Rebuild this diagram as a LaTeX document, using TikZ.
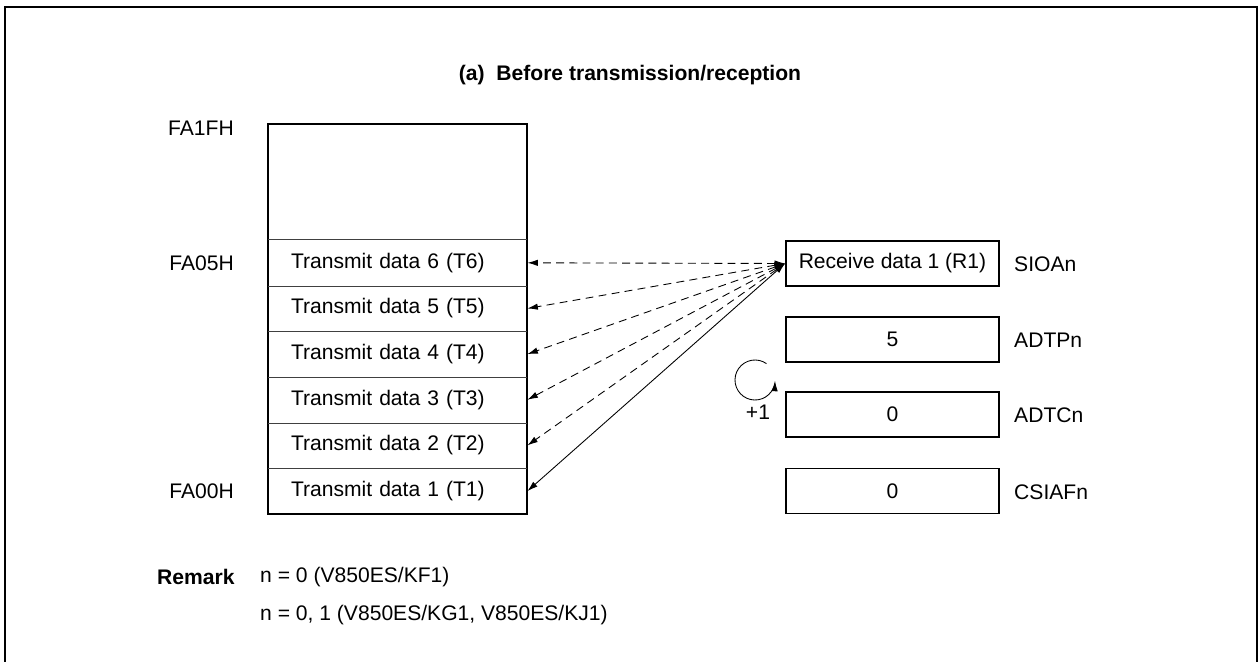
\documentclass[tikz,border=0pt]{standalone}
\usepackage{fontspec}
\setmainfont{Liberation Sans}
\usetikzlibrary{arrows.meta}

\begin{document}
\begin{tikzpicture}[x=0.02cm,y=-0.02cm,
  font=\fontsize{12}{14}\selectfont,
  rowbox/.style={minimum height=0.9134cm, inner ysep=0pt, inner xsep=0.46cm,
    text width=4.26cm, align=left},
  regbox/.style={draw, line width=1.1pt, minimum width=4.26cm, minimum height=0.9cm,
    inner sep=0pt},
  xfer/.style={<->, >={Latex[length=6pt,width=3.6pt]}, line width=0.5pt},
  pxx/.style={line width=1.1pt}]
\useasboundingbox (0,0) rectangle (1258,662);
\draw[line width=1.2pt] (5,680) -- (5,7) -- (1257,7) -- (1257,680);
\node[font=\fontsize{12}{14}\selectfont\bfseries] (title) at (630,75) {(a)\ \ Before transmission/reception};
% buffer RAM
\draw[pxx] (268,124) rectangle (527,514);
\foreach \i in {1,...,6}
  \node[rowbox] (t\i) at (397.5,{514-(\i-0.5)*45.67}) {Transmit data \i\ (T\i)};
\foreach \i in {2,...,6}
  \draw[line width=0.5pt, black!75] (t\i.south west) -- (t\i.south east);
\draw[line width=0.5pt, black!75] (t6.north west) -- (t6.north east);
\node[anchor=east] (a1f) at (240,128) {FA1FH};
\node[anchor=east] (a05) at (240,263) {FA05H};
\node[anchor=east] (a00) at (240,491) {FA00H};
% registers
\node[regbox] (r1) at (892.5,263.5) {Receive data 1 (R1)};
\node[regbox] (adtp) at (892.5,339.5) {5};
\node[regbox] (adtc) at (892.5,414.5) {0};
\node[regbox] (csiaf) at (892.5,491) {0};
\node[anchor=west] (l1) at (1008,264) {SIOAn};
\node[anchor=west] (l2) at (1008,340) {ADTPn};
\node[anchor=west] (l3) at (1008,415) {ADTCn};
\node[anchor=west] (l4) at (1008,492) {CSIAFn};
% transfers
\foreach \i in {2,...,6}
  \draw[xfer, dashed, dash pattern=on 4.5pt off 3pt] (r1.west) -- (t\i.east);
\draw[xfer] (r1.west) -- (t1.east);
% increment
\coordinate (loop) at (755,380);
\draw[line width=0.5pt, -{Latex[length=6pt,width=3.6pt]}]
  ([shift={(-55:20)}]loop) arc[start angle=-55, end angle=-358, radius=20];
\node (inc) at (758,412) {+1};
% remark
\node[anchor=west, font=\fontsize{12}{14}\selectfont\bfseries] (rem) at (151,577) {Remark};
\node[anchor=west] (n1) at (254,577) {n = 0 (V850ES/KF1)};
\node[anchor=west] (n2) at (254,615) {n = 0, 1 (V850ES/KG1, V850ES/KJ1)};
\end{tikzpicture}
\end{document}
